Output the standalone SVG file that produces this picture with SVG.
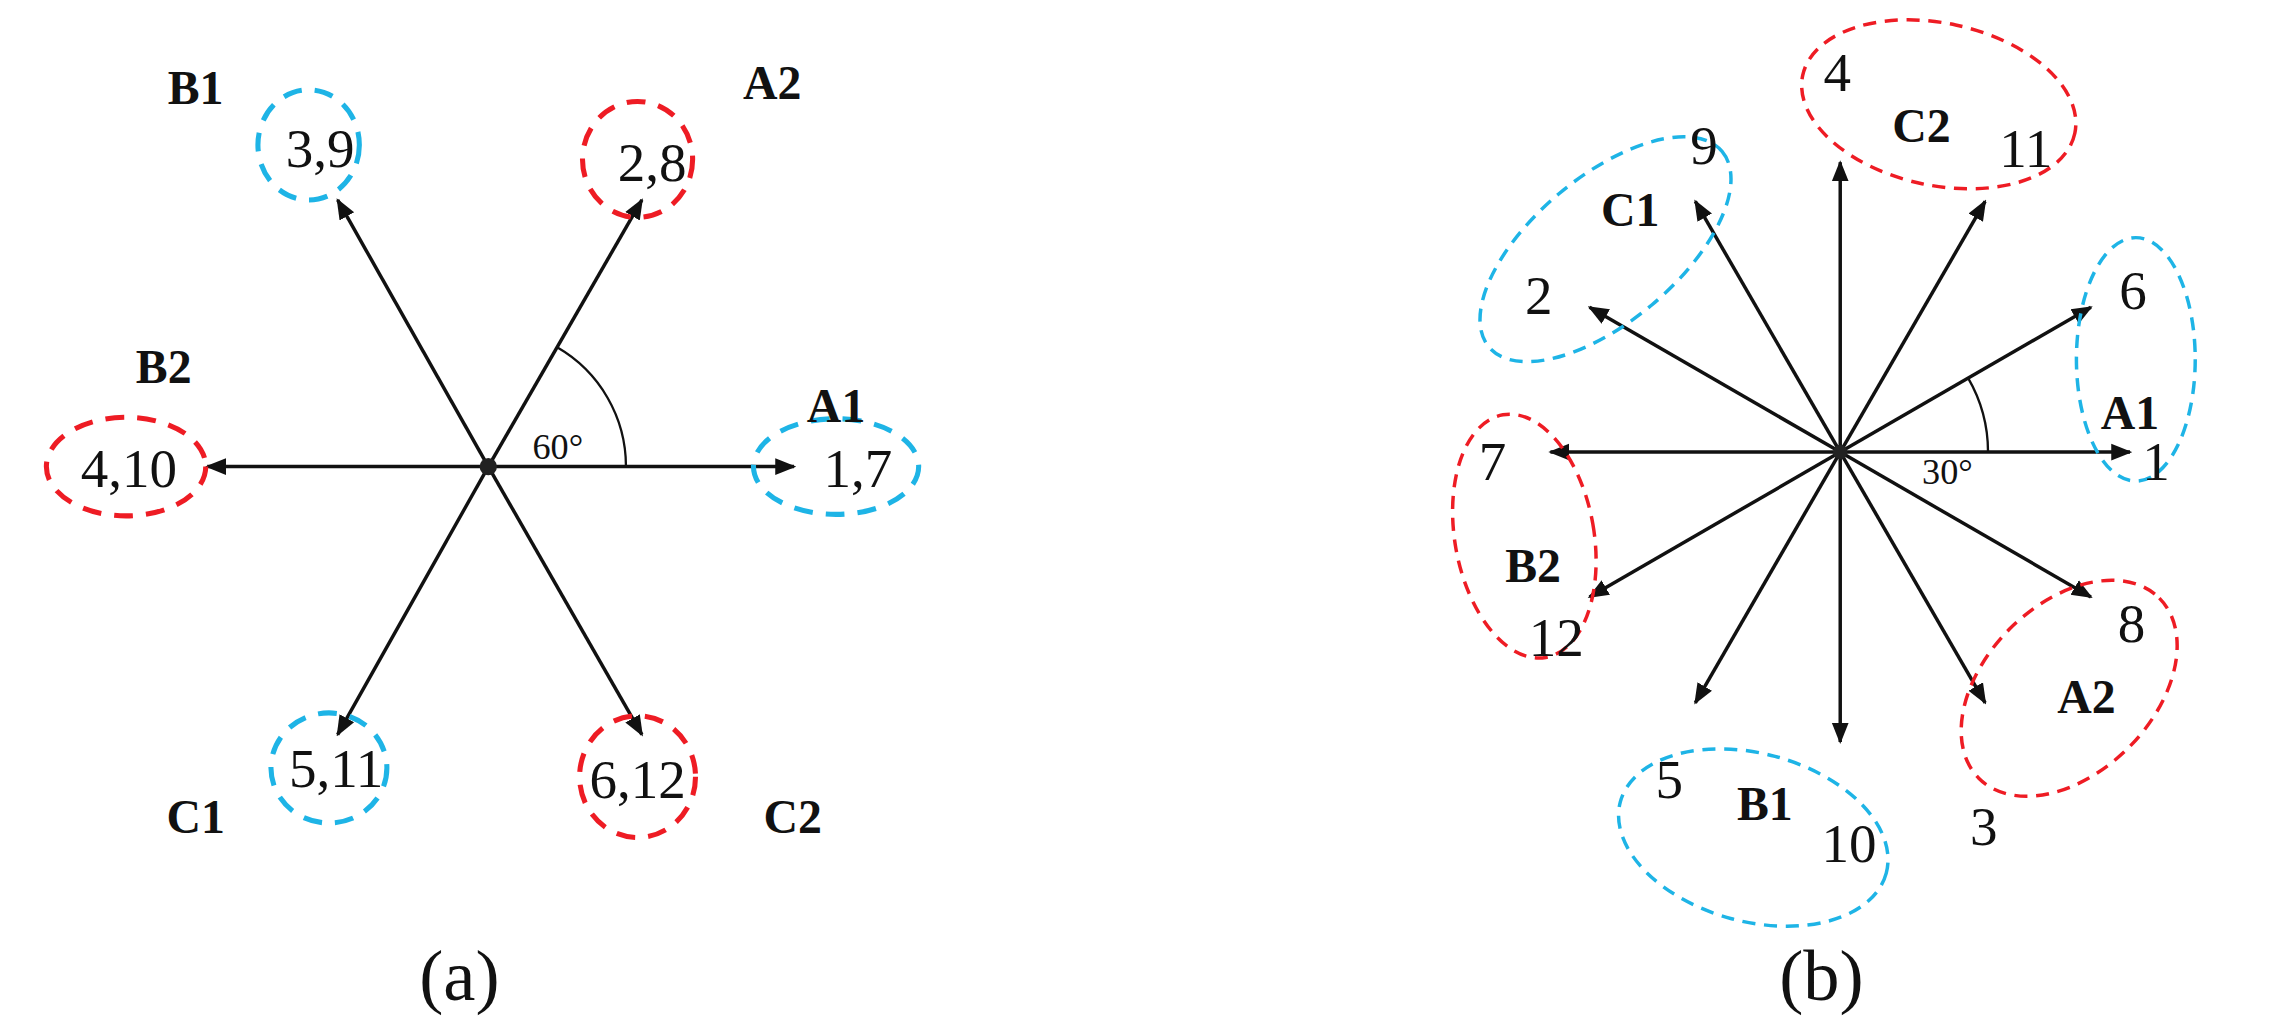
<svg xmlns="http://www.w3.org/2000/svg" width="2272" height="1023" viewBox="0 0 2272 1023">
<style>
.ar{stroke:#111;stroke-width:2.4;fill:none;marker-end:url(#ah)}
.r{fill:none;stroke:#ee1c24;stroke-width:3.5;stroke-dasharray:13 9}
.b{fill:none;stroke:#1eb4e6;stroke-width:3.5;stroke-dasharray:13 9}
.r2{fill:none;stroke:#ee1c24;stroke-width:2.4;stroke-dasharray:9 6}
.b2{fill:none;stroke:#1eb4e6;stroke-width:2.4;stroke-dasharray:9 6}
.n{font-family:"Liberation Serif",serif;font-size:38px;fill:#111;text-anchor:middle}
.l{font-family:"Liberation Serif",serif;font-size:33px;font-weight:bold;fill:#111;text-anchor:middle}
.s{font-family:"Liberation Serif",serif;font-size:25px;fill:#111;text-anchor:middle}
.c{font-family:"Liberation Serif",serif;font-size:50px;fill:#111;text-anchor:middle}
</style>
<defs><marker id="ah" viewBox="0 0 10 10" refX="9" refY="5" markerWidth="6" markerHeight="6" orient="auto" markerUnits="strokeWidth"><path d="M0,1 L10,5 L0,9 z" fill="#111"/></marker></defs>
<rect width="2272" height="1023" fill="#fff"/>
<g transform="scale(1.449)">
<g id="connectors">
<line class="ar" x1="337" y1="322" x2="548" y2="322"/>
<line class="ar" x1="337" y1="322" x2="443" y2="138"/>
<line class="ar" x1="337" y1="322" x2="233" y2="138"/>
<line class="ar" x1="337" y1="322" x2="143" y2="322"/>
<line class="ar" x1="337" y1="322" x2="233" y2="507"/>
<line class="ar" x1="337" y1="322" x2="443" y2="507"/>
<path d="M432,322 A95,95 0 0 0 384.5,239.7" fill="none" stroke="#111" stroke-width="1.6"/>
<line class="ar" x1="1270" y1="312" x2="1470" y2="312"/>
<line class="ar" x1="1270" y1="312" x2="1443" y2="212"/>
<line class="ar" x1="1270" y1="312" x2="1370" y2="139"/>
<line class="ar" x1="1270" y1="312" x2="1270" y2="112"/>
<line class="ar" x1="1270" y1="312" x2="1170" y2="139"/>
<line class="ar" x1="1270" y1="312" x2="1097" y2="212"/>
<line class="ar" x1="1270" y1="312" x2="1070" y2="312"/>
<line class="ar" x1="1270" y1="312" x2="1097" y2="412"/>
<line class="ar" x1="1270" y1="312" x2="1170" y2="485"/>
<line class="ar" x1="1270" y1="312" x2="1270" y2="512"/>
<line class="ar" x1="1270" y1="312" x2="1370" y2="485"/>
<line class="ar" x1="1270" y1="312" x2="1443" y2="412"/>
<path d="M1372,312 A102,102 0 0 0 1358.3,261" fill="none" stroke="#111" stroke-width="1.6"/>
</g>
<circle cx="337" cy="322" r="6" fill="#222"/>
<circle cx="1270" cy="312" r="5" fill="#222"/>
<g id="a">
<g id="nA1"><ellipse class="b" cx="577" cy="322" rx="57" ry="33"/><text class="n" x="592" y="336">1,7</text><text class="l" x="577" y="291">A1</text></g>
<g id="nA2"><ellipse class="r" cx="440" cy="110" rx="38" ry="40"/><text class="n" x="450" y="125">2,8</text><text class="l" x="533" y="68">A2</text></g>
<g id="nB1"><ellipse class="b" cx="213" cy="100" rx="35" ry="38"/><text class="n" x="221" y="115">3,9</text><text class="l" x="135" y="72">B1</text></g>
<g id="nB2"><ellipse class="r" cx="87" cy="322" rx="55" ry="34"/><text class="n" x="89" y="336">4,10</text><text class="l" x="113" y="264">B2</text></g>
<g id="nC1"><ellipse class="b" cx="227" cy="530" rx="40" ry="38"/><text class="n" x="232" y="543">5,11</text><text class="l" x="135" y="575">C1</text></g>
<g id="nC2"><ellipse class="r" cx="440" cy="536" rx="40" ry="42"/><text class="n" x="440" y="551">6,12</text><text class="l" x="547" y="575">C2</text></g>
<text class="s" x="385" y="317">60°</text>
<text class="c" x="317" y="690">(a)</text>
</g>
<g id="b">
<g id="gC2"><ellipse class="r2" cx="1338" cy="72" rx="96" ry="56" transform="rotate(12 1338 72)"/><text class="l" x="1326" y="98">C2</text></g>
<g id="gC1"><ellipse class="b2" cx="1108" cy="172" rx="105" ry="50" transform="rotate(-40 1108 172)"/><text class="l" x="1125" y="156">C1</text></g>
<g id="gA1"><ellipse class="b2" cx="1474" cy="248" rx="41" ry="84"/><text class="l" x="1470" y="296">A1</text></g>
<g id="gB2"><ellipse class="r2" cx="1052" cy="370" rx="48" ry="85" transform="rotate(-10 1052 370)"/><text class="l" x="1058" y="402">B2</text></g>
<g id="gA2"><ellipse class="r2" cx="1428" cy="475" rx="88" ry="58" transform="rotate(-45 1428 475)"/><text class="l" x="1440" y="492">A2</text></g>
<g id="gB1"><ellipse class="b2" cx="1210" cy="578" rx="95" ry="58" transform="rotate(15 1210 578)"/><text class="l" x="1218" y="566">B1</text></g>
<text class="n" x="1488" y="331">1</text>
<text class="n" x="1472" y="213">6</text>
<text class="n" x="1398" y="115">11</text>
<text class="n" x="1268" y="63">4</text>
<text class="n" x="1176" y="113">9</text>
<text class="n" x="1062" y="217">2</text>
<text class="n" x="1030" y="331">7</text>
<text class="n" x="1074" y="453">12</text>
<text class="n" x="1152" y="551">5</text>
<text class="n" x="1276" y="595">10</text>
<text class="n" x="1369" y="583">3</text>
<text class="n" x="1471" y="443">8</text>
<text class="s" x="1344" y="334">30°</text>
<text class="c" x="1257" y="690">(b)</text>
</g>
</g>
</svg>
